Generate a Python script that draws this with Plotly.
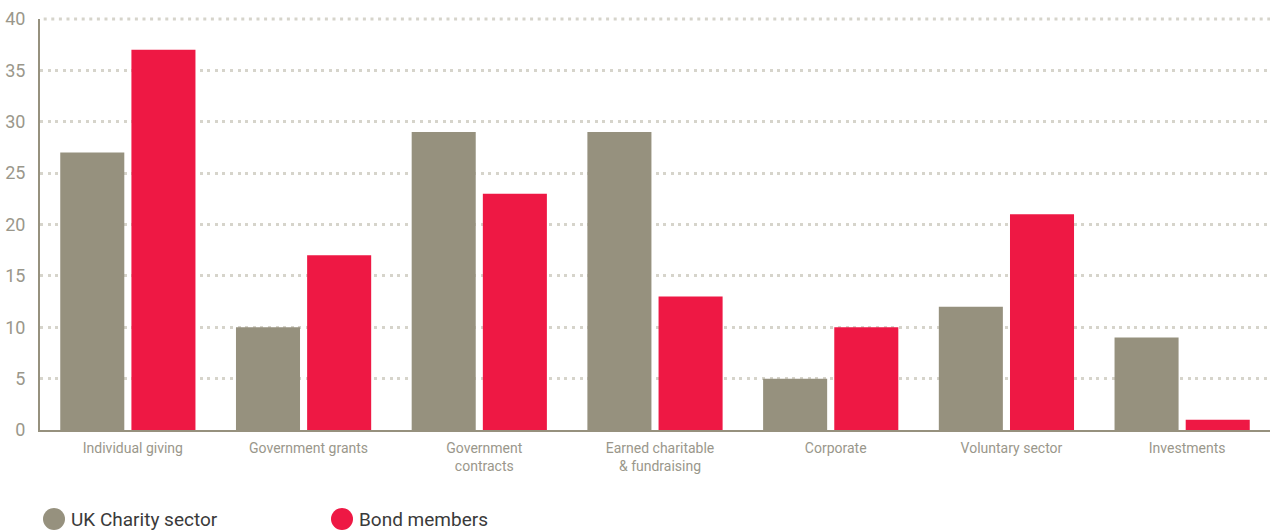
import plotly.graph_objects as go

categories = [
    "Individual giving",
    "Government grants",
    "Government<br>contracts",
    "Earned charitable<br>& fundraising",
    "Corporate",
    "Voluntary sector",
    "Investments",
]
series_names = ["UK Charity sector", "Bond members"]
uk_charity = [27, 10, 29, 29, 5, 12, 9]
bond_members = [37, 17, 23, 13, 10, 21, 1]
y_ticks = [0, 5, 10, 15, 20, 25, 30, 35, 40]

GREY = "#96917e"
RED = "#ee1844"
TEXT = "#9a978b"
GRID = "#d6d4cb"

W, H = 1270, 531
M_L, M_R, M_T, M_B = 40, 0, 19, 101

fig = go.Figure()
for name, vals, col in [(series_names[0], uk_charity, GREY), (series_names[1], bond_members, RED)]:
    fig.add_trace(go.Bar(
        x=categories, y=vals, name=name, marker=dict(color=col, line=dict(width=0)),
        showlegend=False, hoverinfo="x+y+name",
    ))

# legend drawn as circles and labels below the plot area
plot_w = W - M_L - M_R
plot_h = H - M_T - M_B
legend_items = [(series_names[0], GREY, 54), (series_names[1], RED, 342)]
shapes = [
    # dotted guide along the top edge of the value range (paper refs avoid clipping)
    dict(type="line", xref="paper", yref="paper", x0=0.003, x1=1, y0=1, y1=1,
         line=dict(color=GRID, width=3, dash="3px,4.6px"), layer="below"),
]
annotations = []
cy = (430 - 519) / plot_h
for name, col, cx_px in legend_items:
    cx = (cx_px - M_L) / plot_w
    shapes.append(dict(
        type="circle", xref="paper", yref="paper",
        xsizemode="pixel", ysizemode="pixel",
        xanchor=cx, yanchor=cy, x0=-11, x1=11, y0=-11, y1=11,
        fillcolor=col, line=dict(width=0),
    ))
    annotations.append(dict(
        xref="paper", yref="paper", x=(cx_px + 15 - M_L) / plot_w, y=cy,
        xanchor="left", yanchor="middle", text=name, showarrow=False,
        font=dict(size=19, color="#3a3a3a", family="Roboto"),
    ))

fig.update_layout(
    width=W, height=H,
    margin=dict(l=M_L, r=M_R, t=M_T, b=M_B, pad=0),
    paper_bgcolor="white", plot_bgcolor="white",
    barmode="group", bargap=0.19, bargroupgap=0.1,
    font=dict(family="Roboto", color=TEXT),
    shapes=shapes, annotations=annotations,
    xaxis=dict(
        showgrid=False, showline=True, linecolor=GREY, linewidth=2,
        ticks="", tickfont=dict(size=14, color=TEXT), fixedrange=True,
        ticklabelstandoff=4, ticklabelshift=5,
    ),
    yaxis=dict(
        range=[0, 40], tickvals=y_ticks, showgrid=True, gridcolor=GRID,
        gridwidth=3, griddash="3px,4.6px", zeroline=False,
        showline=True, linecolor=GREY, linewidth=2, ticks="",
        ticklabelstandoff=9, tickfont=dict(size=18, color=TEXT), fixedrange=True,
    ),
)

fig.write_html("out.html")
